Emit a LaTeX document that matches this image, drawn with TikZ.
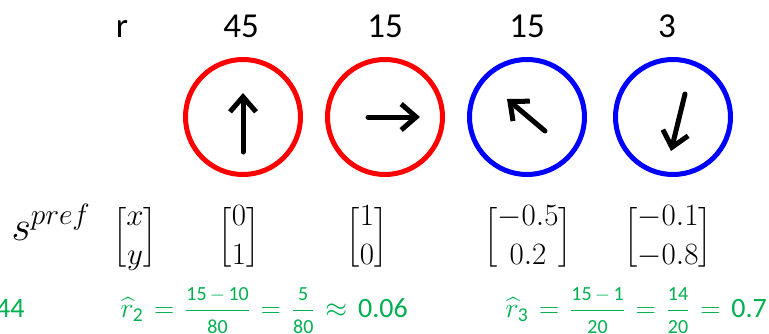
\RequirePackage{fix-cm}
\documentclass[tikz,border=0pt]{standalone}
\usepackage{amsmath}
\usepackage[no-math]{fontspec}
\setmainfont{Carlito}
\usetikzlibrary{arrows.meta,calc}
\definecolor{dialred}{RGB}{255,0,0}
\definecolor{dialblue}{RGB}{0,0,255}
\definecolor{estgreen}{RGB}{0,176,80}
\delimiterfactor=750
\delimitershortfall=20pt
\thickmuskip=7mu plus 2mu
\newcommand{\estnum}[1]{\text{\fontsize{20}{20}\selectfont #1}}
\newcommand{\estfrac}[2]{\dfrac{\raisebox{-2pt}{$#1$}}{\raisebox{3pt}{$#2$}}}
\newcommand{\estdiff}[2]{\scriptstyle\estnum{#1}\mathbin{\,-\,}\estnum{#2}}

\begin{document}
\begin{tikzpicture}[x=1pt, y=-1pt, >={Straight Barb[length=15pt,width=26pt]},
  dial/.style={draw, circle, line width=5pt, minimum size=115pt, inner sep=0pt},
  needle/.style={->, line width=5pt, line cap=round, line join=round},
  rate/.style={anchor=base, font=\fontsize{35}{40}\selectfont},
  pvec/.style={font=\fontsize{31}{39}\selectfont},
  est/.style={anchor=base west, text=estgreen, font=\fontsize{28}{32}\selectfont}]
  \useasboundingbox (0,0) rectangle (769,333);

  % firing rates
  \node[rate] (rlab) at (122,37) {r};
  \node[rate] (r1) at (241,37) {45};
  \node[rate] (r2) at (385,37) {15};
  \node[rate] (r3) at (527,37) {15};
  \node[rate] (r4) at (667,37) {3};

  % stimulus dials
  \node[dial, dialred] (d1) at (243,117) {};
  \node[dial, dialred] (d2) at (385,117) {};
  \node[dial, dialblue] (d3) at (527,117) {};
  \node[dial, dialblue] (d4) at (673,117) {};
  \draw[needle] ([shift={(0,35)}]d1.center) -- ([shift={(0,-24)}]d1.center);
  \draw[needle] ([shift={(-17,0)}]d2.center) -- ([shift={(35,0)}]d2.center);
  \draw[needle] ([shift={(18,14)}]d3.center) -- ([shift={(-20,-18)}]d3.center);
  \draw[needle] ([shift={(12,-23)}]d4.center) -- ([shift={(-2,34)}]d4.center);

  % preferred directions
  \node[pvec, anchor=base west, font=\fontsize{42}{44}\selectfont] (slab) at (8,240) {$s^{pref}$};
  \node[pvec] (v0) at (135,237) {$\begin{bmatrix} x\\ y \end{bmatrix}$};
  \node[pvec] (v1) at (239,237) {$\begin{bmatrix} 0\\ 1 \end{bmatrix}$};
  \node[pvec] (v2) at (367,237) {$\begin{bmatrix} 1\\ 0 \end{bmatrix}$};
  \node[pvec] (v3) at (528,237) {$\begin{bmatrix} -0.5\\ 0.2 \end{bmatrix}$};
  \node[pvec] (v4) at (668,237) {$\begin{bmatrix} -0.1\\ -0.8 \end{bmatrix}$};

  % estimates
  \node[est, anchor=base east] (e1) at (28,317) {44};
  \node[est] (e2) at (117,317) {$\widehat{r}_{\text{2}} = \estfrac{\estdiff{15}{10}}{\estnum{80}} = \estfrac{\estnum{5}}{\estnum{80}} \approx \text{0.06}$};
  \node[est] (e3) at (502,317) {$\widehat{r}_{\text{3}} = \estfrac{\estdiff{15}{1}}{\estnum{20}} = \estfrac{\estnum{14}}{\estnum{20}} = \text{0.7}$};
\end{tikzpicture}
\end{document}
